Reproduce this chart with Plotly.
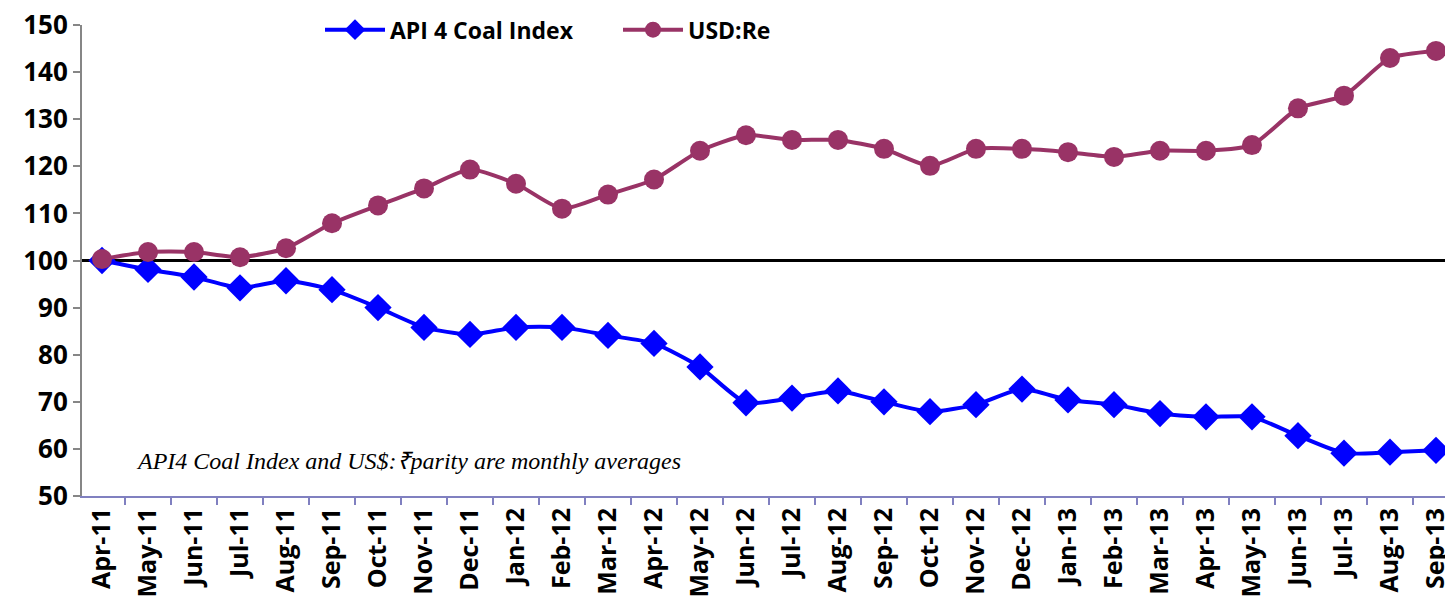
import plotly.graph_objects as go

months = ["Apr-11", "May-11", "Jun-11", "Jul-11", "Aug-11", "Sep-11", "Oct-11", "Nov-11",
          "Dec-11", "Jan-12", "Feb-12", "Mar-12", "Apr-12", "May-12", "Jun-12", "Jul-12",
          "Aug-12", "Sep-12", "Oct-12", "Nov-12", "Dec-12", "Jan-13", "Feb-13", "Mar-13",
          "Apr-13", "May-13", "Jun-13", "Jul-13", "Aug-13", "Sep-13"]

api4_coal = [100, 98.1, 96.5, 94.2, 95.7, 93.8, 90.0, 85.8,
             84.3, 85.8, 85.8, 84.1, 82.4, 77.4, 69.8, 70.8,
             72.3, 70.0, 67.9, 69.4, 72.7, 70.4, 69.4, 67.5,
             66.8, 66.8, 62.8, 59.1, 59.3, 59.7]

usd_re = [100.3, 101.8, 101.8, 100.7, 102.6, 107.9, 111.7, 115.3,
          119.3, 116.3, 111.0, 114.0, 117.2, 123.3, 126.6, 125.6,
          125.6, 123.7, 120.1, 123.7, 123.7, 123.0, 122.0, 123.3,
          123.3, 124.5, 132.3, 135.0, 143.0, 144.5]

note = "API4 Coal Index and US$:\u20b9parity are monthly averages"

fig = go.Figure()
fig.add_trace(go.Scatter(
    x=months, y=api4_coal, name="API 4 Coal Index",
    mode="lines+markers", line=dict(color="#0000FF", width=4, shape="spline", smoothing=0.6),
    marker=dict(symbol="diamond", size=21, color="#0000FF"),
))
fig.add_trace(go.Scatter(
    x=months, y=usd_re, name="USD:Re",
    mode="lines+markers", line=dict(color="#993366", width=4, shape="spline", smoothing=0.6),
    marker=dict(symbol="circle", size=20, color="#993366"),
))

# reference line at 100
fig.add_shape(type="line", xref="paper", x0=0, x1=1, yref="y", y0=100, y1=100,
              line=dict(color="black", width=3), layer="below")

fig.add_annotation(x=0.038, y=57.4, xref="paper", yref="y", xanchor="left",
                   text=note, showarrow=False,
                   font=dict(family="Liberation Serif", size=24, color="black", style="italic"))

# page body adds 8px margin, so the figure is a bit smaller than the window
fig.update_layout(
    width=1445, height=598,
    margin=dict(l=74, r=0, t=13, b=110),
    plot_bgcolor="white", paper_bgcolor="white",
    font=dict(family="Open Sans", color="black"),
    showlegend=True,
    legend=dict(orientation="h", x=0.1736, y=0.99,
                xanchor="left", yanchor="middle",
                bgcolor="rgba(0,0,0,0)",
                font=dict(size=23, family="Open Sans", weight="bold", color="black"),
                itemwidth=60, entrywidth=223, tracegroupgap=0),
)
fig.update_xaxes(
    type="category", range=[-0.435, 29.37], automargin=False,
    showline=True, linecolor="#8080C0", linewidth=2,
    ticks="outside", tickson="boundaries", ticklen=7, tickcolor="#8080C0", tickwidth=2,
    tickangle=-90, tickfont=dict(size=25, weight="bold"),
    showgrid=False,
)
fig.update_yaxes(
    range=[50, 150], dtick=10, automargin=False, ticklabeloverflow="allow",
    showline=True, linecolor="#868686", linewidth=2,
    ticks="outside", ticklen=7, tickcolor="#868686", tickwidth=2,
    tickfont=dict(size=26, weight="bold"),
    showgrid=False, zeroline=False,
)

fig.write_html("out.html")
